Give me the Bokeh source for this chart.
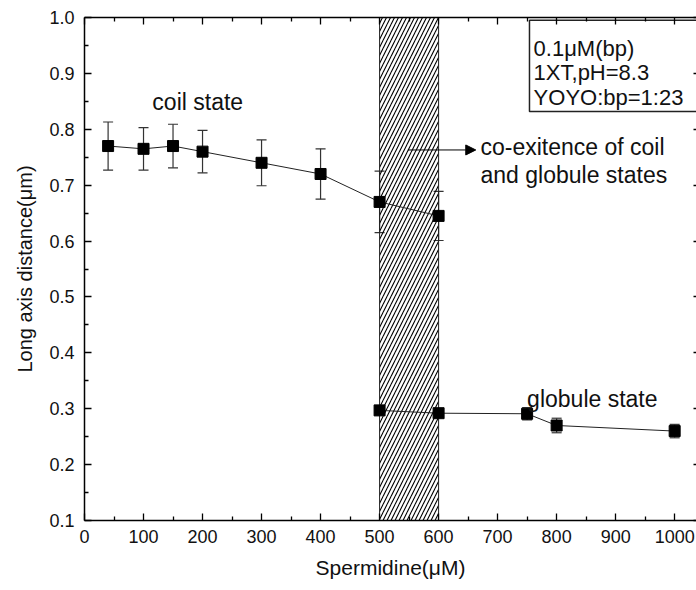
from bokeh.plotting import figure
from bokeh.models import (Range1d, LinearAxis, FixedTicker, Whisker, TeeHead,
                          ColumnDataSource, Label, Arrow, NormalHead, PrintfTickFormatter)
from bokeh.embed import file_html
from bokeh.resources import INLINE

# ---- data ----
coil_x = [40, 100, 150, 200, 300, 400, 500, 600]
coil_y = [0.770, 0.765, 0.770, 0.760, 0.740, 0.720, 0.670, 0.645]
coil_err = [0.043, 0.038, 0.039, 0.038, 0.041, 0.045, 0.055, 0.044]

glob_x = [500, 600, 750, 800, 1000]
glob_y = [0.297, 0.292, 0.291, 0.270, 0.260]
glob_err = [0.004, 0.004, 0.011, 0.013, 0.012]

region_x = [500, 600]          # co-existence region
x_ticks = [0, 100, 200, 300, 400, 500, 600, 700, 800, 900, 1000]
x_minor = [50, 150, 250, 350, 450, 550, 650, 750, 850, 950]
y_ticks = [0.1, 0.2, 0.3, 0.4, 0.5, 0.6, 0.7, 0.8, 0.9, 1.0]
y_minor = [0.15, 0.25, 0.35, 0.45, 0.55, 0.65, 0.75, 0.85, 0.95]

FONT = "Liberation Sans"
Y0, Y1 = 0.1, 1.0

p = figure(width=696, height=590, x_range=Range1d(0, 1037), y_range=Range1d(Y0, Y1),
           output_backend="svg", toolbar_location=None,
           min_border_left=84, min_border_right=0, min_border_top=17, min_border_bottom=70)
p.outline_line_color = None
p.xgrid.visible = False
p.ygrid.visible = False
p.background_fill_color = "white"

def style_axis(ax, ticks, minor, labels=True):
    ax.ticker = FixedTicker(ticks=ticks, minor_ticks=minor)
    ax.axis_line_color = "black"
    ax.axis_line_width = 1.5
    ax.major_tick_line_color = "black"
    ax.minor_tick_line_color = "black"
    ax.major_tick_line_width = 1.3
    ax.minor_tick_line_width = 1.3
    ax.major_tick_in = 7
    ax.major_tick_out = 0
    ax.minor_tick_in = 4
    ax.minor_tick_out = 0
    ax.major_label_text_font = FONT
    ax.major_label_text_font_size = "18px" if labels else "0px"
    ax.major_label_text_color = "#111111"
    ax.axis_label_text_font = FONT
    ax.axis_label_text_font_size = "20px"
    ax.axis_label_text_font_style = "normal"
    ax.axis_label_text_color = "#111111"

xa = p.xaxis[0]
ya = p.yaxis[0]
style_axis(xa, x_ticks, x_minor)
style_axis(ya, y_ticks, y_minor)
ya.formatter = PrintfTickFormatter(format="%.1f")
xa.major_label_standoff = 9
ya.major_label_standoff = 10
xa.axis_label = "Spermidine(\u03bcM)"
ya.axis_label = "Long axis distance(\u03bcm)"
xa.axis_label_text_font_size = "21px"
xa.axis_label_standoff = 10
ya.axis_label_standoff = 10

top = LinearAxis()
style_axis(top, x_ticks, x_minor, labels=False)
top.major_label_standoff = 0
p.add_layout(top, "above")

right = LinearAxis()
style_axis(right, y_ticks, y_minor, labels=False)
right.axis_line_color = None
right.major_tick_in = 3
right.minor_tick_in = 0
right.major_label_standoff = 0
p.add_layout(right, "right")

# hatched co-existence region
p.quad(left=[region_x[0]], right=[region_x[1]], bottom=[Y0], top=[Y1],
       fill_color=None, hatch_pattern="/", hatch_color="black", hatch_scale=8,
       hatch_weight=1.1, line_color="#222222", line_width=1)

# legend-like info box
p.quad(left=[754], right=[1200], bottom=[0.832], top=[0.995],
       fill_color="white", line_color="#222222", line_width=1.5)

# error bars
def add_err(xs, ys, es):
    src = ColumnDataSource(dict(x=xs, upper=[y + e for y, e in zip(ys, es)],
                                lower=[y - e for y, e in zip(ys, es)]))
    w = Whisker(base="x", upper="upper", lower="lower", source=src, dimension="height",
                line_color="#333333", line_width=1.2, level="underlay",
                upper_head=TeeHead(size=10, line_color="#333333", line_width=1.2),
                lower_head=TeeHead(size=10, line_color="#333333", line_width=1.2))
    p.add_layout(w)

add_err(coil_x, coil_y, coil_err)
add_err(glob_x, glob_y, glob_err)

# lines + markers
p.line(coil_x, coil_y, line_color="#222222", line_width=1)
p.line(glob_x, glob_y, line_color="#222222", line_width=1)
p.scatter(coil_x, coil_y, marker="square", size=11, fill_color="black", line_color="black")
p.scatter(glob_x, glob_y, marker="square", size=11, fill_color="black", line_color="black")

# arrow
p.add_layout(Arrow(end=NormalHead(size=10, fill_color="black", line_color="black", line_width=1),
                   x_start=548, y_start=0.763, x_end=663, y_end=0.763,
                   line_color="black", line_width=1))

def label(x, y, text, size="23px"):
    p.add_layout(Label(x=x, y=y, text=text, text_font=FONT, text_font_size=size,
                       text_color="#111111", text_baseline="alphabetic"))

label(115, 0.848, "coil state")
label(671, 0.768, "co-exitence of coil")
label(671, 0.7185, "and globule states")
label(750, 0.318, "globule state")
label(761, 0.945, "0.1\u03bcM(bp)", "22px")
label(761, 0.901, "1XT,pH=8.3", "22px")
label(761, 0.857, "YOYO:bp=1:23", "22px")

open("out.html", "w").write(file_html(p, INLINE))
